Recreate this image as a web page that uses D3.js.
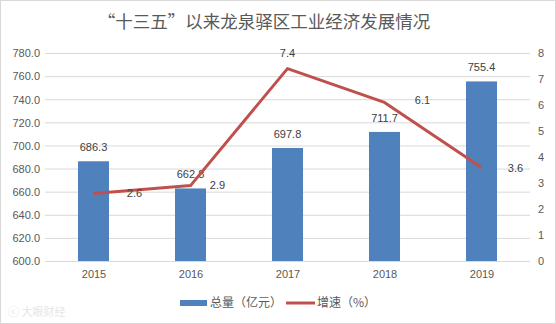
<!DOCTYPE html>
<html><head><meta charset="utf-8">
<script src="https://cdn.jsdelivr.net/npm/d3@7/dist/d3.min.js"></script>
<style>body{margin:0;background:#fff;}svg{display:block;font-family:"Noto Sans CJK SC","Microsoft YaHei",sans-serif;}</style>
</head><body>
<svg id="c" width="556" height="324"></svg>
<script>
const years = ["2015","2016","2017","2018","2019"];
const totals = [686.3, 662.8, 697.8, 711.7, 755.4];
const growth = [2.6, 2.9, 7.4, 6.1, 3.6];
const leftTicks = [600,620,640,660,680,700,720,740,760,780];
const rightTicks = [0,1,2,3,4,5,6,7,8];
const title = "“十三五”以来龙泉驿区工业经济发展情况";
const legendNames = ["总量（亿元）","增速（%）"];

const svg = d3.select("#c");
const W = 556, H = 324;
const m = {l:45, r:26, t:53, b:63};
const x = d3.scaleBand().domain(years).range([m.l, W - m.r]).paddingInner(0.68).paddingOuter(0.34);
const xc = d3.scalePoint().domain(years).range([m.l, W - m.r]).padding(0.5);
const yL = d3.scaleLinear().domain([600,780]).range([H - m.b, m.t]);
const yR = d3.scaleLinear().domain([0,8]).range([H - m.b, m.t]);

svg.append("rect").attr("x",0.5).attr("y",0.5).attr("width",W-1).attr("height",H-1)
  .attr("fill","#fff").attr("stroke","#d9d9d9");

svg.append("text").attr("x",264).attr("y",28).attr("text-anchor","middle")
  .attr("font-size",17.5).attr("fill","#595959").text(title);

// grid
svg.append("g").selectAll("line").data(leftTicks).join("line")
  .attr("x1",m.l).attr("x2",W-m.r).attr("y1",d=>yL(d)+0.5).attr("y2",d=>yL(d)+0.5)
  .attr("stroke","#d9d9d9").attr("stroke-width",1);

// left axis labels
const gl = svg.append("g").attr("transform",`translate(${m.l-5},0)`)
  .call(d3.axisLeft(yL).tickValues(leftTicks).tickFormat(d3.format(".1f")).tickSize(0).tickPadding(0));
gl.select(".domain").remove();
gl.selectAll("text").attr("font-size",11).attr("fill","#595959").attr("font-family","'Liberation Sans',Arial,sans-serif").attr("dy","0.35em");

const gr = svg.append("g").attr("transform",`translate(${W-m.r+8},0)`)
  .call(d3.axisRight(yR).tickValues(rightTicks).tickSize(0).tickPadding(0));
gr.select(".domain").remove();
gr.selectAll("text").attr("font-size",11).attr("fill","#595959").attr("font-family","'Liberation Sans',Arial,sans-serif").attr("dy","0.35em");

const gx = svg.append("g").attr("transform",`translate(0,${H-m.b})`)
  .call(d3.axisBottom(xc).tickSize(0).tickPadding(9));
gx.select(".domain").remove();
gx.selectAll("text").attr("font-size",11).attr("fill","#595959").attr("font-family","'Liberation Sans',Arial,sans-serif");

// bars
svg.append("g").selectAll("rect").data(totals).join("rect")
  .attr("x",(d,i)=>x(years[i])).attr("width",x.bandwidth())
  .attr("y",d=>yL(d)).attr("height",d=>yL(600)-yL(d)).attr("fill","#4f81bd");

svg.append("g").selectAll("text").data(totals).join("text")
  .attr("x",(d,i)=>xc(years[i])).attr("y",d=>yL(d)-10)
  .attr("text-anchor","middle").attr("font-size",11).attr("fill","#404040")
  .attr("font-family","'Liberation Sans',Arial,sans-serif").text(d=>d.toFixed(1));

// line
const line = d3.line().x((d,i)=>xc(years[i])).y(d=>yR(d));
svg.append("path").datum(growth).attr("d",line).attr("fill","none")
  .attr("stroke","#c0504d").attr("stroke-width",3).attr("stroke-linejoin","round");

const lblDx = [41, 27, 0, 38, 34];
const lblDy = [0, 0, -15, -2, 1];
svg.append("g").selectAll("text").data(growth).join("text")
  .attr("x",(d,i)=>xc(years[i])+lblDx[i]).attr("y",(d,i)=>yR(d)+lblDy[i])
  .attr("dy","0.35em").attr("text-anchor","middle").attr("font-size",11).attr("fill","#404040")
  .attr("font-family","'Liberation Sans',Arial,sans-serif").text(d=>d.toFixed(1));

// legend
const lg = svg.append("g");
lg.append("rect").attr("x",180).attr("y",300).attr("width",27).attr("height",6).attr("fill","#4f81bd");
lg.append("text").attr("x",210).attr("y",303).attr("dy","0.35em").attr("font-size",12).attr("fill","#595959").text(legendNames[0]);
lg.append("line").attr("x1",286).attr("x2",315).attr("y1",303).attr("y2",303).attr("stroke","#c0504d").attr("stroke-width",3);
lg.append("text").attr("x",317).attr("y",303).attr("dy","0.35em").attr("font-size",12).attr("fill","#595959").text(legendNames[1]);

// watermark
svg.append("text").attr("x",8).attr("y",316).attr("font-size",11).attr("fill","#e6e6e6").text("ⓒ 大眼财经");
</script>
</body></html>
